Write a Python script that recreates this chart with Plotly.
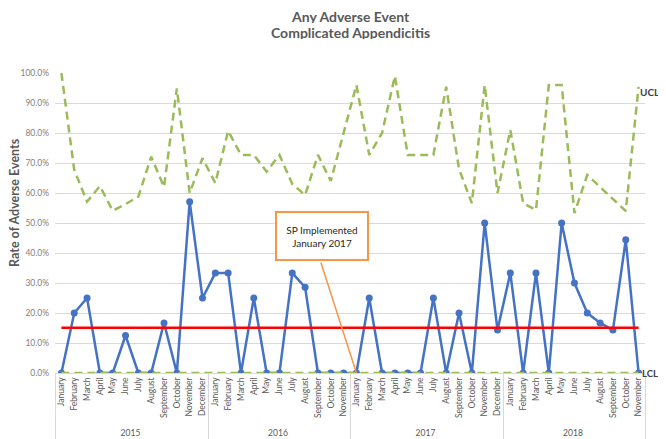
import plotly.graph_objects as go

month_names = ["January", "February", "March", "April", "May", "June", "July",
               "August", "September", "October", "November", "December"]
years = ["2015", "2016", "2017", "2018"]
months_in_year = [12, 11, 12, 11]

# rate of adverse events (%) per month
rate = [0, 20.0, 25.0, 0, 0, 12.5, 0, 0, 16.7, 0, 57.1, 25.0,
        33.3, 33.3, 0, 25.0, 0, 0, 33.3, 28.6, 0, 0, 0,
        0, 25.0, 0, 0, 0, 0, 25.0, 0, 20.0, 0, 50.0, 14.3,
        33.3, 0, 33.3, 0, 50.0, 30.0, 20.0, 16.7, 14.3, 44.4, 0]
ucl = [100.0, 67.7, 57.1, 62.3, 54.1, 56.3, 58.8, 72.1, 62.0, 94.9, 60.0, 71.6,
       63.3, 80.7, 72.7, 72.7, 67.1, 72.7, 63.0, 59.3, 72.7, 64.0, 80.0,
       96.0, 72.7, 80.0, 99.0, 72.7, 72.7, 72.7, 95.4, 68.0, 56.6, 96.0, 60.0,
       81.0, 56.6, 54.3, 96.0, 96.0, 53.3, 66.0, 62.0, 58.0, 54.0, 95.4]
center = 15.1
lcl = 0.0
event_year, event_month = "2017", "January"

yr, mo = [], []
for y, n in zip(years, months_in_year):
    yr += [y] * n
    mo += month_names[:n]
x = [yr, mo]
n = len(rate)

fnt = "Lato"
green_dash = "8px,5px"
fig = go.Figure()
fig.add_trace(go.Scatter(x=x, y=rate, mode="lines+markers",
                         line=dict(color="#4472C4", width=2.5),
                         marker=dict(size=7, color="#4472C4")))
fig.add_trace(go.Scatter(x=x, y=[center] * n, mode="lines",
                         line=dict(color="#FF0000", width=2.5)))
fig.add_trace(go.Scatter(x=x, y=ucl, mode="lines",
                         line=dict(color="#9BBB59", width=2.5, dash=green_dash)))
fig.add_trace(go.Scatter(x=x, y=[lcl] * n, mode="lines",
                         line=dict(color="#9BBB59", width=2.5, dash=green_dash)))

idx = [i for i in range(n) if yr[i] == event_year and mo[i] == event_month][0]
fig.add_annotation(x=idx, y=lcl, xref="x", yref="y", text="", showarrow=True,
                   arrowhead=0, arrowwidth=1.5, arrowcolor="#F79646",
                   axref="pixel", ayref="pixel", ax=-36, ay=-112, standoff=0)
fig.add_annotation(x=idx, y=lcl, xref="x", yref="y",
                   text="SP Implemented<br>January 2017", showarrow=False,
                   xshift=-34, yshift=137, width=88, height=44,
                   bordercolor="#F79646", borderwidth=2, borderpad=1, bgcolor="white",
                   font=dict(size=10, color="#262626", family=fnt))
fig.add_annotation(xref="paper", x=1, y=ucl[-1], xanchor="left", showarrow=False,
                   text="<b>UCL</b>", xshift=-7, yshift=-5,
                   font=dict(size=10, color="#404040", family=fnt))
fig.add_annotation(xref="paper", x=1, y=lcl, xanchor="left", showarrow=False,
                   text="<b>LCL</b>", xshift=-5,
                   font=dict(size=9.5, color="#404040", family=fnt))
fig.add_annotation(xref="paper", yref="paper", x=0.5, y=1, xanchor="center",
                   yanchor="middle", yshift=57, height=14, showarrow=False,
                   text="<b>Any Adverse Event</b>",
                   font=dict(size=14, color="#595959", family=fnt))
fig.add_annotation(xref="paper", yref="paper", x=0.5, y=1, xanchor="center",
                   yanchor="middle", yshift=41, height=14, showarrow=False,
                   text="<b>Complicated Appendicitis</b>",
                   font=dict(size=14, color="#595959", family=fnt))
fig.add_annotation(xref="paper", yref="paper", x=0, y=0.567, xanchor="center",
                   yanchor="middle", xshift=-40, textangle=-90, showarrow=False,
                   text="<b>Rate of Adverse Events</b>",
                   font=dict(size=12.5, color="#595959", family=fnt))

# page body has an 8px margin, so the figure is drawn 8px smaller
fig.update_layout(
    width=658, height=431, template="simple_white", showlegend=False,
    margin=dict(l=47, r=21, t=65, b=66),
    font=dict(family=fnt, color="#595959"),
    plot_bgcolor="white", paper_bgcolor="white",
)
fig.update_xaxes(type="multicategory", tickangle=-90, automargin=False,
                 range=[-0.5, n - 0.5],
                 showline=True, linecolor="#d9d9d9", ticks="",
                 tickfont=dict(size=8.5, color="#595959"),
                 dividercolor="#d9d9d9", dividerwidth=1, showgrid=False)
fig.update_yaxes(range=[0, 100], dtick=10, tickformat=".1f", ticksuffix="%",
                 automargin=False, showline=False, ticks="", ticklabelstandoff=5,
                 showgrid=True, gridcolor="#d9d9d9", zeroline=False,
                 tickfont=dict(size=8.5, color="#7f7f7f"))

fig.write_html("out.html")
